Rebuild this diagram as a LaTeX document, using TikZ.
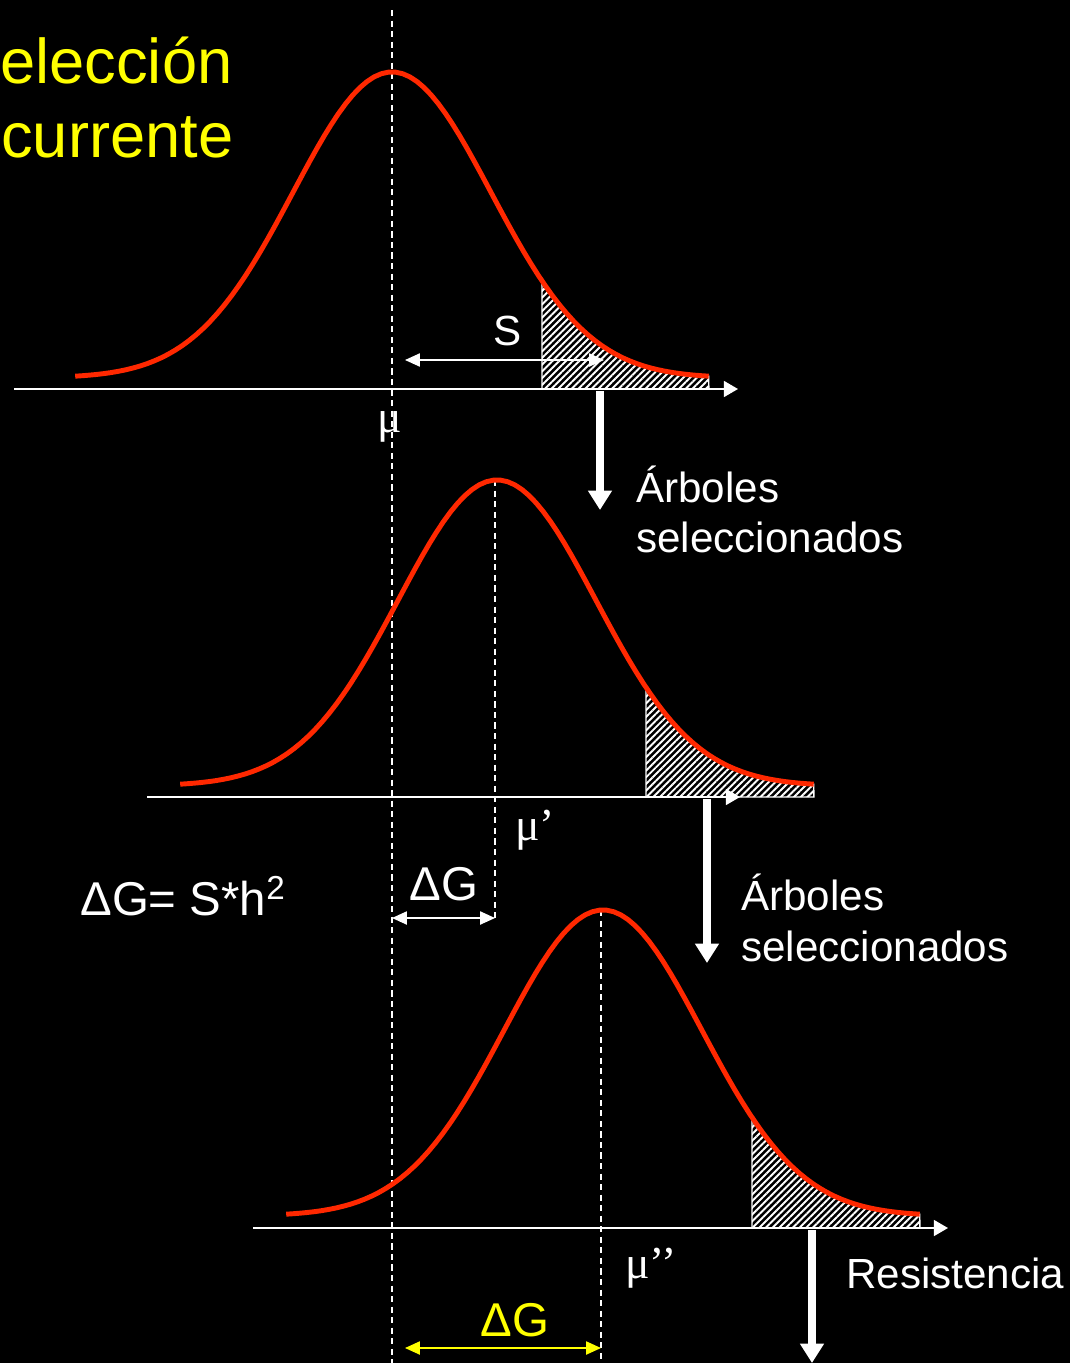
\documentclass[tikz,border=0pt]{standalone}
\usepackage{fontspec}
\setmainfont{Liberation Sans}
\newfontfamily\mufont{Liberation Serif}
\usetikzlibrary{arrows.meta,patterns.meta}
\definecolor{bellred}{RGB}{255,40,0}
\definecolor{dgyellow}{RGB}{255,255,0}

\begin{document}
\begin{tikzpicture}[x=0.02cm,y=-0.02cm,
  lbl/.style={text=white,font=\fontsize{24}{28}\selectfont,inner sep=0pt},
  big/.style={lbl,font=\fontsize{27}{32}\selectfont},
  ttl/.style={text=dgyellow,font=\fontsize{36}{42}\selectfont,inner sep=0pt},
  mu/.style={text=white,font=\mufont\fontsize{26}{30}\selectfont,inner sep=0pt},
  ax/.style={white,line width=1.1pt,-{Triangle[width=9pt,length=8pt]}},
  bell/.style={bellred,line width=2.8pt},
  tail/.style={draw=white,line width=0.8pt,pattern={Lines[angle=45,distance=2.7pt,line width=1.1pt]},pattern color=white},
  vl/.style={white,line width=0.8pt,dash pattern=on 3.5pt off 2.5pt},
  down/.style={white,line width=4pt,-{Triangle[width=13pt,length=11pt]}},
  dim/.style={white,line width=0.9pt,{Triangle[width=7.5pt,length=8.5pt]}-{Triangle[width=7.5pt,length=8.5pt]}}]
\useasboundingbox[fill=black] (0,0) rectangle (1070,1363);
\def\sg{99}\def\ht{306}
%------------- title
\node[ttl,anchor=base west] (t1) at (0,83) {elección};
\node[ttl,anchor=base west] (t2) at (1,157) {currente};
%------------- dashed guides at mu, mu', mu''
\coordinate (g0t) at (392,10);  \coordinate (g0b) at (392,1363);
\coordinate (g1t) at (495,480); \coordinate (g1b) at (495,918);
\coordinate (g2t) at (601,910); \coordinate (g2b) at (601,1363);
\draw[vl] (g0t) -- (g0b);
\draw[vl] (g1t) -- (g1b);
\draw[vl] (g2t) -- (g2b);
%------------- population 1
\begin{scope}[shift={(392,378)}]
\fill[tail] (1.515*\sg,11) -- plot[domain=1.515:3.2,samples=30] ({\sg*\x},{-\ht*exp(-0.5*\x*\x)}) -- (3.2*\sg,11) -- cycle;
\draw[bell] plot[domain=-3.2:3.2,samples=90] ({\sg*\x},{-\ht*exp(-0.5*\x*\x)});
\end{scope}
\coordinate (a1l) at (14,389); \coordinate (a1r) at (738,389);
\draw[ax] (a1l) -- (a1r);
\node[lbl,anchor=base] (s) at (508,345) {S};
\coordinate (s1) at (405,360); \coordinate (s2) at (604,360);
\draw[dim] (s1) -- (s2);
\node[mu,anchor=base] (m1) at (390,432) {μ};
\coordinate (d1t) at (600,391); \coordinate (d1b) at (600,510);
\draw[down] (d1t) -- (d1b);
\node[lbl,anchor=base west] (arb1) at (636,502) {Árboles};
\node[lbl,anchor=base west] (sel1) at (636,552) {seleccionados};
%------------- population 2
\begin{scope}[shift={(497,786)}]
\fill[tail] (1.505*\sg,11) -- plot[domain=1.505:3.2,samples=30] ({\sg*\x},{-\ht*exp(-0.5*\x*\x)}) -- (3.2*\sg,11) -- cycle;
\draw[bell] plot[domain=-3.2:3.2,samples=90] ({\sg*\x},{-\ht*exp(-0.5*\x*\x)});
\end{scope}
\coordinate (a2l) at (147,797); \coordinate (a2r) at (740,797);
\draw[ax] (a2l) -- (a2r);
\node[mu,anchor=base west] (m2) at (515,840) {μ’};
\node[big,anchor=base west] (dgf) at (80,915) {ΔG= S*h\textsuperscript{2}};
\node[big,anchor=base] (dg1) at (444,900) {ΔG};
\coordinate (e1) at (392,918); \coordinate (e2) at (495,918);
\draw[dim] (e1) -- (e2);
\coordinate (d2t) at (707,799); \coordinate (d2b) at (707,963);
\draw[down] (d2t) -- (d2b);
\node[lbl,anchor=base west] (arb2) at (741,910) {Árboles};
\node[lbl,anchor=base west] (sel2) at (741,961) {seleccionados};
%------------- population 3
\begin{scope}[shift={(603,1216)}]
\fill[tail] (1.505*\sg,12) -- plot[domain=1.505:3.2,samples=30] ({\sg*\x},{-\ht*exp(-0.5*\x*\x)}) -- (3.2*\sg,12) -- cycle;
\draw[bell] plot[domain=-3.2:3.2,samples=90] ({\sg*\x},{-\ht*exp(-0.5*\x*\x)});
\end{scope}
\coordinate (a3l) at (253,1228); \coordinate (a3r) at (948,1228);
\draw[ax] (a3l) -- (a3r);
\node[mu,anchor=base west] (m3) at (625,1278) {μ’’};
\node[lbl,anchor=base west] (res) at (846,1288) {Resistencia};
\coordinate (d3t) at (812,1230); \coordinate (d3b) at (812,1363);
\draw[down] (d3t) -- (d3b);
\node[big,text=dgyellow,anchor=base] (dg2) at (515,1336) {ΔG};
\coordinate (f1) at (405,1348); \coordinate (f2) at (601,1348);
\draw[dim,dgyellow] (f1) -- (f2);
\end{tikzpicture}
\end{document}
